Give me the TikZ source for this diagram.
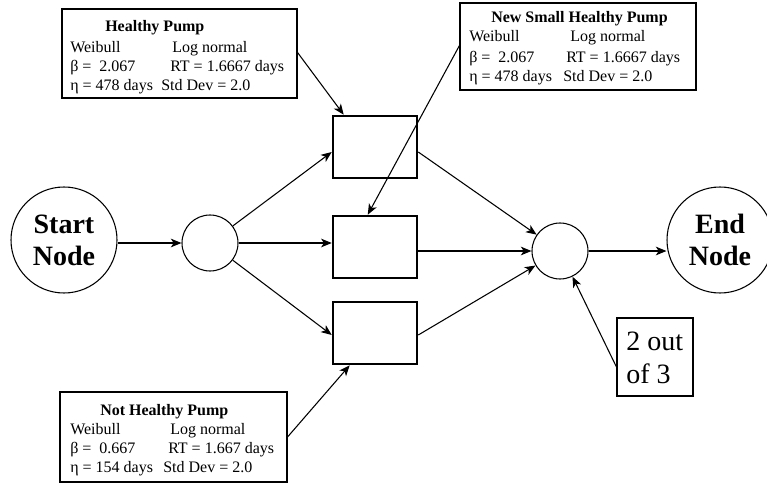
\documentclass[tikz,border=0pt]{standalone}
\usepackage{fontspec}
\setmainfont{Liberation Serif}
\usetikzlibrary{arrows.meta,calc}
\begin{document}
\begin{tikzpicture}[x=0.75pt,y=-0.75pt,
  thinln/.style={line width=0.8pt},
  arr/.style={thinln,-{Stealth[length=8pt,width=6.5pt,inset=2.2pt]}},
  bignode/.style={circle,draw,thinln,minimum size=79.5pt,inner sep=0pt,align=center,font=\fontsize{21}{24}\selectfont\bfseries},
  junc/.style={circle,draw,thinln,minimum size=42pt,inner sep=0pt},
  blockbox/.style={rectangle,draw,line width=1.9pt,minimum width=63pt,minimum height=46.5pt,inner sep=0pt},
  infobox/.style={rectangle,draw,thinln,inner sep=0pt},
  txt/.style={anchor=base west,inner sep=0pt,font=\fontsize{12}{14}\selectfont},
  bigtxt/.style={anchor=base west,inner sep=0pt,font=\fontsize{21}{24}\selectfont}]
\useasboundingbox (0,0) rectangle (767,485);

% main nodes
\node[bignode] (start) at (64,240) {Start\\Node};
\node[bignode] (end) at (720,240) {End\\Node};
\node[junc] (lc) at (210,243) {};
\node[junc] (rc) at (560,251) {};
\node[blockbox] (b1) at (375,147) {};
\node[blockbox] (b2) at (375,247) {};
\node[blockbox] (b3) at (375,333) {};

% info boxes
\node[infobox,minimum width=176.25pt,minimum height=66.75pt] (hp) at (179.5,53.5) {};
\node[infobox,minimum width=177pt,minimum height=65.25pt] (ns) at (578,46.5) {};
\node[infobox,minimum width=170.25pt,minimum height=67.5pt] (nh) at (173.5,437) {};
\node[infobox,minimum width=57pt,minimum height=58.5pt] (two) at (655,357) {};

% Healthy Pump text
\node[txt] (hpT) at (105,32) {\textbf{Healthy Pump}};
\node[txt] (hpA) at (70,53) {Weibull};
\node[txt] (hpB) at (172,53) {Log normal};
\node[txt] (hpC) at (70,72) {β =\ \ 2.067};
\node[txt] (hpD) at (170,72) {RT = 1.6667 days};
\node[txt] (hpE) at (70,90) {η = 478 days};
\node[txt] (hpF) at (161,90) {Std Dev = 2.0};

% New Small Healthy Pump text
\node[txt] (nsT) at (491,23) {\textbf{New Small Healthy Pump}};
\node[txt] (nsA) at (469,42) {Weibull};
\node[txt] (nsB) at (570,42) {Log normal};
\node[txt] (nsC) at (469,63) {β =\ \ 2.067};
\node[txt] (nsD) at (566,63) {RT = 1.6667 days};
\node[txt] (nsE) at (469,82) {η = 478 days};
\node[txt] (nsF) at (563,82) {Std Dev = 2.0};

% Not Healthy Pump text
\node[txt] (nhT) at (100,415) {\textbf{Not Healthy Pump}};
\node[txt] (nhA) at (70,434) {Weibull};
\node[txt] (nhB) at (170,434) {Log normal};
\node[txt] (nhC) at (70,453) {β =\ \ 0.667};
\node[txt] (nhD) at (168,453) {RT = 1.667 days};
\node[txt] (nhE) at (70,472) {η = 154 days};
\node[txt] (nhF) at (163,472) {Std Dev = 2.0};

% 2 out of 3 text
\node[bigtxt] (twoA) at (626,350) {2 out};
\node[bigtxt] (twoB) at (626,383) {of 3};

% connectors
\draw[arr] (start.east |- lc.west) -- (lc.west);
\draw[arr] (lc) -- ($(b1.west)+(0,5)$);
\draw[arr] (lc.east) -- (b2.west |- lc.east);
\draw[arr] (lc) -- ($(b3.west)+(0,2)$);
\draw[arr] ($(b1.east)+(0,5)$) -- (rc);
\draw[arr] (b2.east |- rc.west) -- (rc.west);
\draw[arr] ($(b3.east)+(0,2)$) -- (rc);
\draw[arr] (rc.east) -- (end.west |- rc.east);
\draw[arr] ($(hp.east)+(0,-1)$) -- ($(b1.north west)+(12,0)$);
\draw[arr] ($(ns.west)+(0,-1)$) -- ($(b2.north west)+(36,0)$);
\draw[arr] (nh.east) -- ($(b3.south west)+(18,0)$);
\draw[arr] ($(two.west)+(0,10)$) -- (rc);
\end{tikzpicture}
\end{document}
